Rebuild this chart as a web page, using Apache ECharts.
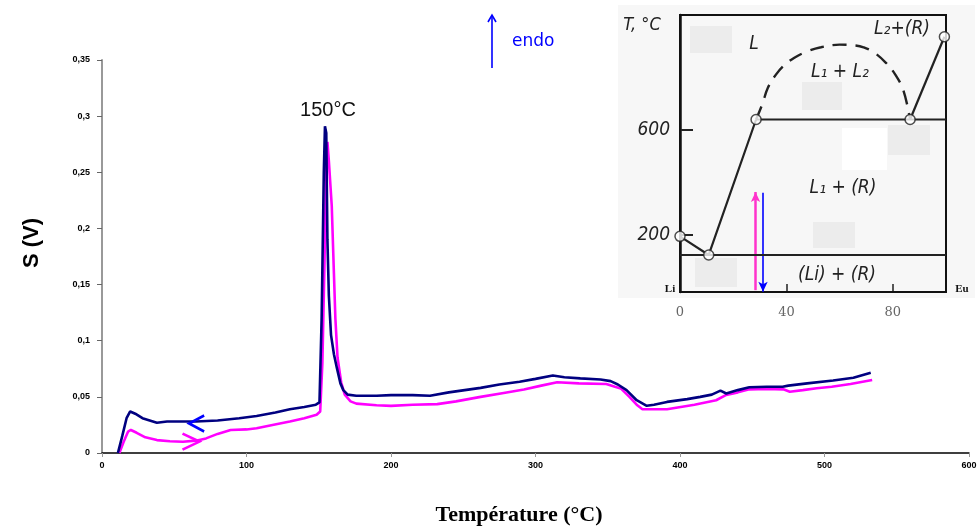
<!DOCTYPE html>
<html>
<head>
<meta charset="utf-8">
<script src="https://cdn.jsdelivr.net/npm/echarts@6/dist/echarts.min.js"></script>
<style>html,body{margin:0;padding:0;background:#fff}#c{width:980px;height:531px}</style>
</head>
<body>
<div id="c"></div>
<script>
// ---- Main DTA curves: [temperature °C, signal V]
const coolingCurve = [
 [11,0],[14,0.015],[17,0.031],[19.5,0.037],[23,0.035],[28,0.031],[33,0.029],[38,0.027],[45,0.028],[55,0.028],
 [65,0.028],[80,0.029],[95,0.031],[107,0.033],[120,0.036],[130,0.039],[140,0.041],[148,0.043],[150.5,0.045],
 [152,0.12],[153.5,0.25],[154.3,0.291],[155.2,0.285],[156,0.19],[157,0.14],[158.5,0.105],[160.5,0.088],[162.5,0.076],
 [165,0.062],[167,0.056],[170,0.052],[176,0.051],[190,0.051],[200,0.0515],[215,0.0515],[227,0.051],[240,0.054],
 [262,0.058],[275,0.061],[289,0.0635],[300,0.066],[312,0.069],[320,0.0675],[331,0.0665],[345,0.0655],[352,0.064],
 [357,0.061],[363,0.056],[370,0.047],[377,0.042],[382,0.043],[391,0.0455],[405,0.048],[414,0.05],[422,0.052],
 [428,0.0555],[432,0.053],[440,0.056],[448,0.0585],[460,0.059],[471,0.059],[475,0.06],[488,0.062],[506,0.0645],
 [520,0.067],[532,0.0715]
];
const heatingCurve = [
 [12,0],[15,0.01],[18,0.019],[20,0.0205],[24,0.018],[30,0.014],[38,0.0115],[47,0.0105],[56,0.01],[65,0.011],
 [72,0.013],[80,0.017],[89,0.0205],[100,0.021],[107,0.022],[118,0.025],[130,0.028],[140,0.031],[148.5,0.034],
 [151,0.037],[152.5,0.08],[154,0.17],[155,0.25],[156,0.277],[157,0.26],[159,0.22],[160.5,0.16],[161.5,0.12],
 [163,0.085],[165.5,0.063],[168,0.052],[172,0.046],[176,0.044],[190,0.0425],[200,0.042],[215,0.043],[232,0.0435],
 [245,0.046],[262,0.05],[278,0.0535],[292,0.0565],[304,0.06],[315,0.063],[330,0.062],[349,0.0615],[355,0.059],
 [359,0.0575],[365,0.05],[370,0.043],[374,0.039],[391,0.039],[410,0.043],[425,0.047],[432,0.0517],[440,0.054],
 [448,0.0567],[460,0.057],[471.5,0.0567],[476,0.0546],[485,0.056],[494.6,0.0576],[505,0.059],[518,0.0615],[533,0.065]
];
const coolingArrowAt = [65.5, 0.0263];
const heatingArrowAt = [61.6, 0.0102];
const xTicksMain = {min: 0, max: 600, interval: 100};
const yTicksMain = {min: 0, max: 0.35, interval: 0.05};

// ---- Inset Li–Eu phase diagram: [at.% Eu, T °C]
const insetLeftLiquidus = [[0,195],[10.8,124],[28.6,640]];
const insetEutecticLine = [[0,124],[100,124]];
const insetMonotecticLine = [[28.6,640],[100,640]];
const insetRightLiquidus = [[86.5,640],[99.4,955]];
const insetDome = [[28.6,640],[31,700],[33,760],[36,810],[39,845],[43,875],[47.5,898],[53,915],[60,925],[66,922],
 [69,915],[73,895],[77.5,855],[81,810],[84,750],[86.5,640]];
const insetPoints = [[0,195],[10.8,124],[28.6,640],[86.5,640],[99.4,955]];
const insetHeatArrow = [[28.4,-10],[28.4,364]];
const insetCoolArrow = [[31.2,361],[31.2,-16]];
const insetXLabels = [0,40,80];
const insetYLabels = [200,600];

const chart = echarts.init(document.getElementById('c'));
const chev = 'path://M10,0 L0,5 L10,10';
const chevR = 'path://M0,0 L10,5 L0,10';
const lbl = {fontFamily:'Liberation Sans, Arial', fontSize:9, fontWeight:'bold', color:'#000'};

chart.setOption({
 animation:false,
 grid:[
  {left:102,right:11,top:60,bottom:78},
  {left:680,right:34,top:15,bottom:239,show:true,borderColor:'#111',borderWidth:2,z:3}
 ],
 xAxis:[
  {type:'value',gridIndex:0,min:xTicksMain.min,max:xTicksMain.max,interval:xTicksMain.interval,
   axisLine:{lineStyle:{color:'#000',width:1.5}},axisTick:{length:4,lineStyle:{color:'#999'}},
   splitLine:{show:false},axisLabel:Object.assign({margin:8},lbl)},
  {type:'value',gridIndex:1,min:0,max:100,
   axisLine:{show:true,onZero:false,lineStyle:{color:'#111',width:2}},
   axisTick:{show:true,inside:true,length:8,customValues:[40,80],lineStyle:{color:'#222',width:1.5}},
   splitLine:{show:false},
   axisLabel:{customValues:insetXLabels,margin:14,fontSize:13,color:'#666',fontFamily:'DejaVu Serif'}}
 ],
 yAxis:[
  {type:'value',gridIndex:0,min:yTicksMain.min,max:yTicksMain.max,interval:yTicksMain.interval,
   axisLine:{show:true,lineStyle:{color:'#999',width:2}},axisTick:{show:true,length:5,lineStyle:{color:'#666'}},
   splitLine:{show:false},
   axisLabel:Object.assign({margin:12,formatter:v=>String(+v.toFixed(2)).replace('.',',')},lbl)},
  {type:'value',gridIndex:1,min:-17,max:1038,
   axisLine:{show:true,onZero:false,lineStyle:{color:'#111',width:2.5}},
   axisTick:{show:true,inside:true,length:13,customValues:insetYLabels,lineStyle:{color:'#222',width:2}},
   splitLine:{show:false},
   axisLabel:{customValues:insetYLabels,margin:10,fontSize:19,fontStyle:'italic',color:'#222',fontFamily:'DejaVu Sans Condensed'}}
 ],
 graphic:[
  {type:'rect',z:-1,shape:{x:618,y:5,width:357,height:293},style:{fill:'#f7f7f7'}},
  {type:'rect',z:-1,shape:{x:690,y:26,width:42,height:27},style:{fill:'#ececec'}},
  {type:'rect',z:-1,shape:{x:802,y:82,width:40,height:28},style:{fill:'#ececec'}},
  {type:'rect',z:-1,shape:{x:842,y:128,width:45,height:42},style:{fill:'#ffffff'}},
  {type:'rect',z:-1,shape:{x:888,y:125,width:42,height:30},style:{fill:'#ececec'}},
  {type:'rect',z:-1,shape:{x:813,y:222,width:42,height:26},style:{fill:'#ececec'}},
  {type:'rect',z:-1,shape:{x:695,y:258,width:42,height:29},style:{fill:'#ececec'}},
  {type:'text',x:642,y:25,style:{text:'T, °C',font:'italic 18px "DejaVu Sans Condensed"',fill:'#222',align:'center',verticalAlign:'middle'}},
  {type:'text',x:754,y:44,style:{text:'L',font:'italic 19px "DejaVu Sans Condensed"',fill:'#222',align:'center',verticalAlign:'middle'}},
  {type:'text',x:840,y:72,style:{text:'L₁ + L₂',font:'italic 19px "DejaVu Sans Condensed"',fill:'#222',align:'center',verticalAlign:'middle'}},
  {type:'text',x:902,y:29,style:{text:'L₂+(R)',font:'italic 19px "DejaVu Sans Condensed"',fill:'#222',align:'center',verticalAlign:'middle'}},
  {type:'text',x:843,y:188,style:{text:'L₁ + (R)',font:'italic 19px "DejaVu Sans Condensed"',fill:'#222',align:'center',verticalAlign:'middle'}},
  {type:'text',x:837,y:275,style:{text:'(Li) + (R)',font:'italic 19px "DejaVu Sans Condensed"',fill:'#222',align:'center',verticalAlign:'middle'}},
  {type:'text',x:670,y:289,style:{text:'Li',font:'bold 11px "Liberation Serif"',fill:'#111',align:'center',verticalAlign:'middle'}},
  {type:'text',x:962,y:289,style:{text:'Eu',font:'bold 11px "Liberation Serif"',fill:'#111',align:'center',verticalAlign:'middle'}},
  {type:'text',x:328,y:110,style:{text:'150°C',font:'20px "Liberation Sans"',fill:'#111',align:'center',verticalAlign:'middle'}},
  {type:'line',shape:{x1:492,y1:68,x2:492,y2:16},style:{stroke:'#0000ff',lineWidth:1.6}},
  {type:'polyline',shape:{points:[[488,22],[492,15],[496,22]]},style:{stroke:'#0000ff',lineWidth:1.6,fill:null}},
  {type:'text',x:512,y:42,style:{text:'endo',font:'17px "DejaVu Sans"',fill:'#0000ff',align:'left',verticalAlign:'middle'}},
  {type:'text',x:32,y:243,rotation:Math.PI/2,style:{text:'S (V)',font:'bold 22px "Liberation Sans"',fill:'#000',align:'center',verticalAlign:'middle'}},
  {type:'text',x:519,y:515,style:{text:'Température (°C)',font:'bold 22px "Liberation Serif"',fill:'#000',align:'center',verticalAlign:'middle'}}
 ],
 series:[
  {type:'line',xAxisIndex:0,yAxisIndex:0,data:heatingCurve,showSymbol:false,lineStyle:{color:'#ff00ff',width:2.6},z:3,
   markPoint:{symbol:chevR,symbolSize:[17,16],itemStyle:{color:'none',borderColor:'#ff00ff',borderWidth:2.6},label:{show:false},
    data:[{coord:heatingArrowAt}]}},
  {type:'line',xAxisIndex:0,yAxisIndex:0,data:coolingCurve,showSymbol:false,lineStyle:{color:'#000080',width:2.6},z:4,
   markPoint:{symbol:chev,symbolSize:[15,16],itemStyle:{color:'none',borderColor:'#0000ff',borderWidth:2.6},label:{show:false},
    data:[{coord:coolingArrowAt}]}},
  {type:'line',xAxisIndex:1,yAxisIndex:1,data:insetLeftLiquidus,showSymbol:false,lineStyle:{color:'#222',width:2.2},z:5},
  {type:'line',xAxisIndex:1,yAxisIndex:1,data:insetEutecticLine,showSymbol:false,lineStyle:{color:'#222',width:2},z:5},
  {type:'line',xAxisIndex:1,yAxisIndex:1,data:insetMonotecticLine,showSymbol:false,lineStyle:{color:'#222',width:2.2},z:5},
  {type:'line',xAxisIndex:1,yAxisIndex:1,data:insetRightLiquidus,showSymbol:false,lineStyle:{color:'#222',width:2.2},z:5},
  {type:'line',xAxisIndex:1,yAxisIndex:1,data:insetDome,showSymbol:false,smooth:0.4,lineStyle:{color:'#222',width:2.4,type:[14,9]},z:5},
  {type:'scatter',xAxisIndex:1,yAxisIndex:1,data:insetPoints,symbolSize:10,clip:false,
   itemStyle:{color:'#fff',borderColor:'#222',borderWidth:1.5},z:6},
  {type:'line',xAxisIndex:1,yAxisIndex:1,data:[],z:7,
   markLine:{silent:true,symbol:['none','arrow'],symbolSize:[7,10],label:{show:false},
    data:[
     [{coord:insetHeatArrow[0],lineStyle:{color:'#ff33cc',width:2.5,type:'solid'}},{coord:insetHeatArrow[1]}]
    ]}},
  {type:'line',xAxisIndex:1,yAxisIndex:1,data:[],z:7,
   markLine:{silent:true,symbol:['none','arrow'],symbolSize:[7,10],label:{show:false},
    data:[
     [{coord:insetCoolArrow[0],lineStyle:{color:'#0000ff',width:1.6,type:'solid'}},{coord:insetCoolArrow[1]}]
    ]}}
 ]
});
</script>
</body>
</html>
